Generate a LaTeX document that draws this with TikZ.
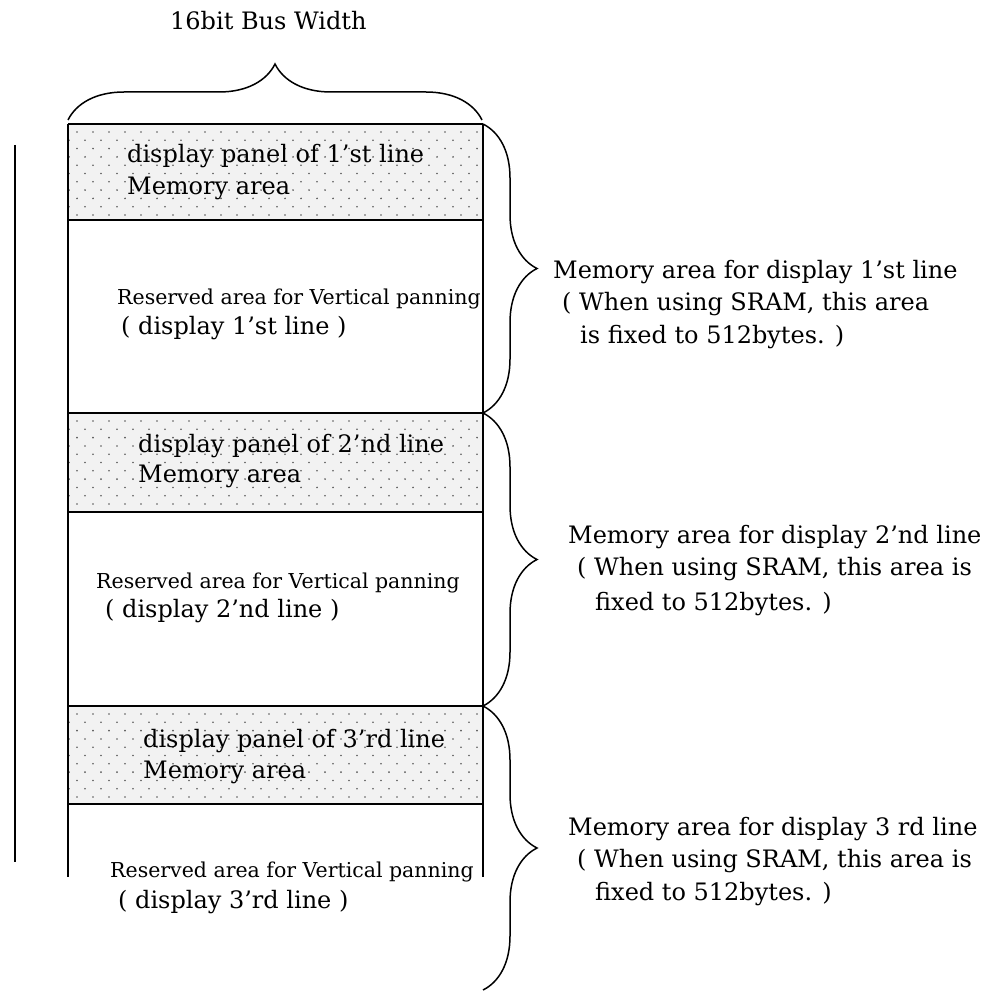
\documentclass[tikz,border=0pt]{standalone}
\usepackage{fontspec}
\setmainfont{DejaVu Serif}
\usetikzlibrary{decorations.pathreplacing}
\newcommand\mydotband[2]{%
  \fill[black!5] (68,#1) rectangle (483,#2);
  \begin{scope}
    \clip (68,#1) rectangle (483,#2);
    \foreach \r in {0,...,12}{
      \foreach \c in {0,...,26}{
        \fill[black!65] ({69+\c*16+8*(1-mod(\r,2))},{#1+8+\r*8.3}) circle (0.9);
      }}
  \end{scope}}
\begin{document}
\begin{tikzpicture}[x=1pt,y=-1pt,
  frame/.style={line width=1.6pt},
  bracestyle/.style={line width=1.5pt, decorate, decoration={brace, amplitude=#1}},
  big/.style={anchor=base west, inner sep=0pt, font=\fontsize{24}{28}\selectfont},
  small/.style={anchor=base west, inner sep=0pt, font=\fontsize{20.5}{24}\selectfont}]
\useasboundingbox (0,0) rectangle (1000,992);

% title and top brace
\node[big] (title) at (170,30) {16bit Bus Width};
\draw[bracestyle=56] (68,120) -- (482,120);

% dotted bands
\mydotband{124}{220}
\mydotband{413}{512}
\mydotband{706}{804}

% frame
\draw[frame] (68,124) -- (68,877);
\draw[frame] (483,124) -- (483,877);
\foreach \yy in {124,220,413,512,706,804}
  \draw[frame] (68,\yy) -- (483,\yy);

% left line
\draw[frame] (15,145) -- (15,862);

% right braces
\draw[bracestyle=54] (483,124) -- (483,413);
\draw[bracestyle=54] (483,413) -- (483,706);
\draw[bracestyle=54] (483,706) -- (483,990);

% texts in block 1
\node[big] (p1a) at (127,163) {display panel of 1’st line};
\node[big] (p1b) at (127,195) {Memory area};
\node[small] (r1a) at (117,304) {Reserved area for Vertical panning};
\node[big] (r1b) at (121,334) {( display 1’st line )};

% block 2
\node[big] (p2a) at (138,452) {display panel of 2’nd line};
\node[big] (p2b) at (138,482) {Memory area};
\node[small] (r2a) at (96,588) {Reserved area for Vertical panning};
\node[big] (r2b) at (105,617) {( display 2’nd line )};

% block 3
\node[big] (p3a) at (143,747) {display panel of 3’rd line};
\node[big] (p3b) at (143,778) {Memory area};
\node[small] (r3a) at (110,877) {Reserved area for Vertical panning};
\node[big] (r3b) at (118,908) {( display 3’rd line )};

% right labels
\node[big] (m1a) at (553,278) {Memory area for display 1’st line};
\node[big] (m1b) at (562,310) {( When using SRAM, this area};
\node[big] (m1c) at (580,343) {is fixed to 512bytes. )};

\node[big] (m2a) at (568,543) {Memory area for display 2’nd line};
\node[big] (m2b) at (577,575) {( When using SRAM, this area is};
\node[big] (m2c) at (595,610) {fixed to 512bytes. )};

\node[big] (m3a) at (568,835) {Memory area for display 3 rd line};
\node[big] (m3b) at (577,867) {( When using SRAM, this area is};
\node[big] (m3c) at (595,900) {fixed to 512bytes. )};
\end{tikzpicture}
\end{document}
